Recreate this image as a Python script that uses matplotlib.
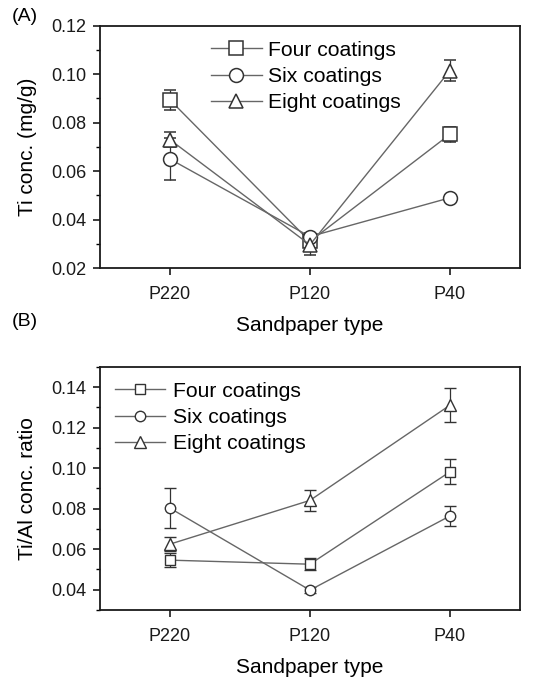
import matplotlib
matplotlib.use('Agg')
import matplotlib.pyplot as plt
from matplotlib.ticker import MultipleLocator, FormatStrFormatter
from matplotlib.lines import Line2D

plt.rcParams['font.family'] = ['Liberation Sans', 'DejaVu Sans']

# Data
sandpaper = ['P220', 'P120', 'P40']
series_names = ['Four coatings', 'Six coatings', 'Eight coatings']

# (A) Ti concentration (mg/g)
ti_four = [0.0894, 0.0310, 0.0752]
ti_four_err = [0.0040, 0.0015, 0.0030]
ti_six = [0.0650, 0.0330, 0.0490]
ti_six_err = [0.0085, 0.0015, 0.0010]
ti_eight = [0.0730, 0.0296, 0.1015]
ti_eight_err = [0.0030, 0.0040, 0.0045]

# (B) Ti/Al concentration ratio
ratio_four = [0.0546, 0.0526, 0.0982]
ratio_four_err = [0.0035, 0.0030, 0.0062]
ratio_six = [0.0803, 0.0398, 0.0764]
ratio_six_err = [0.0100, 0.0015, 0.0048]
ratio_eight = [0.0625, 0.0841, 0.1311]
ratio_eight_err = [0.0035, 0.0052, 0.0083]

markers = ['s', 'o', '^']
line_color = '#666666'
edge_color = '#333333'
x = [1, 2, 3]


def style_axes(ax, ylim, ylabel):
    ax.set_xlim(0.5, 3.5)
    ax.set_ylim(*ylim)
    ax.set_xticks(x)
    ax.set_xticklabels(sandpaper)
    ax.yaxis.set_major_locator(MultipleLocator(0.02))
    ax.yaxis.set_minor_locator(MultipleLocator(0.01))
    ax.yaxis.set_major_formatter(FormatStrFormatter('%.2f'))
    ax.tick_params(axis='both', which='major', direction='out', length=5,
                   width=1.2, labelsize=13, top=False, right=False,
                   colors='#1a1a1a')
    ax.tick_params(axis='x', which='major', pad=8)
    ax.tick_params(axis='y', which='major', pad=5)
    ax.tick_params(axis='y', which='minor', direction='out', length=3, width=1.0)
    ax.tick_params(axis='x', which='minor', bottom=False)
    for sp in ax.spines.values():
        sp.set_linewidth(1.3)
        sp.set_color('#1a1a1a')
    ax.set_xlabel('Sandpaper type', fontsize=15, labelpad=9)
    ax.set_ylabel(ylabel, fontsize=15, labelpad=10)


def legend_handles(ms_list, mew):
    return [Line2D([], [], color=line_color, lw=1.0, marker=m, markersize=ms,
                   mfc='white', mec=edge_color, mew=mew)
            for m, ms in zip(markers, ms_list)]


fig = plt.figure(figsize=(5.49, 6.77), dpi=100)
ax1 = fig.add_axes([0.182, 0.604, 0.765, 0.358])
ax2 = fig.add_axes([0.182, 0.099, 0.765, 0.359])

# Panel A
for vals, errs, m, name in zip([ti_four, ti_six, ti_eight],
                               [ti_four_err, ti_six_err, ti_eight_err],
                               markers, series_names):
    ax1.errorbar(x, vals, yerr=errs, marker=m, markersize=10, color=line_color,
                 mfc='white', mec=edge_color, mew=1.1, lw=1.0, capsize=4,
                 ecolor=edge_color, elinewidth=0.9, capthick=0.9)
style_axes(ax1, (0.02, 0.12), 'Ti conc. (mg/g)')
ax1.legend(legend_handles([10, 10, 10], 1.1), series_names,
           loc='upper center', bbox_to_anchor=(0.49, 1.0), frameon=False,
           fontsize=15.2, handlelength=2.4, handletextpad=0.3,
           labelspacing=0.35, borderaxespad=0.3)

# Panel B
ms_b = [7.5, 7.5, 9]
for vals, errs, m, ms, name in zip([ratio_four, ratio_six, ratio_eight],
                                   [ratio_four_err, ratio_six_err, ratio_eight_err],
                                   markers, ms_b, series_names):
    ax2.errorbar(x, vals, yerr=errs, marker=m, markersize=ms, color=line_color,
                 mfc='white', mec=edge_color, mew=1.0, lw=1.0, capsize=4,
                 ecolor=edge_color, elinewidth=0.9, capthick=0.9)
style_axes(ax2, (0.03, 0.15), 'Ti/Al conc. ratio')
ax2.legend(legend_handles(ms_b, 1.0), series_names,
           loc='upper left', bbox_to_anchor=(0.0, 1.0), frameon=False,
           fontsize=15.2, handlelength=2.4, handletextpad=0.35,
           labelspacing=0.35, borderaxespad=0.3)

fig.text(0.022, 0.975, '(A)', fontsize=14, va='center')
fig.text(0.022, 0.525, '(B)', fontsize=14, va='center')

fig.savefig('out.png', dpi=100)
